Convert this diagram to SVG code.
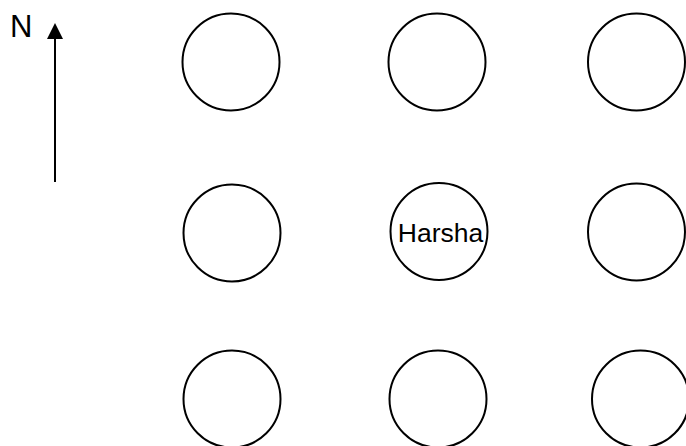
<svg xmlns="http://www.w3.org/2000/svg" width="686" height="446" viewBox="0 0 686 446">
<style>
.c{fill:#fff;stroke:#000;stroke-width:2}
.t{font-family:"Liberation Sans",Arial,sans-serif;fill:#000}
</style>
<defs>
<marker id="ah" markerWidth="16" markerHeight="16" refX="14" refY="8" orient="auto" markerUnits="userSpaceOnUse" viewBox="0 0 16 16">
<polygon points="0,0 16,8 0,16" fill="#000"/>
</marker>
</defs>
<rect width="686" height="446" fill="#fff"/>
<g id="compass">
<text class="t" x="10" y="37" font-size="31">N</text>
</g>
<g id="connectors">
<line x1="55" y1="182" x2="55" y2="25" stroke="#000" stroke-width="2" marker-end="url(#ah)"/>
</g>
<g id="n11"><circle class="c" cx="231" cy="62" r="48.5"/></g>
<g id="n12"><circle class="c" cx="437" cy="62" r="48.5"/></g>
<g id="n13"><circle class="c" cx="636.5" cy="62" r="48.5"/></g>
<g id="n21"><circle class="c" cx="232" cy="233" r="48.5"/></g>
<g id="n22"><circle class="c" cx="439" cy="231.5" r="48.5"/><text class="t" x="440.5" y="242" font-size="26.5" text-anchor="middle">Harsha</text></g>
<g id="n23"><circle class="c" cx="636.5" cy="232" r="48.5"/></g>
<g id="n31"><circle class="c" cx="232" cy="399" r="48.5"/></g>
<g id="n32"><circle class="c" cx="438" cy="399" r="48.5"/></g>
<g id="n33"><circle class="c" cx="640.5" cy="399" r="48.5"/></g>
</svg>
